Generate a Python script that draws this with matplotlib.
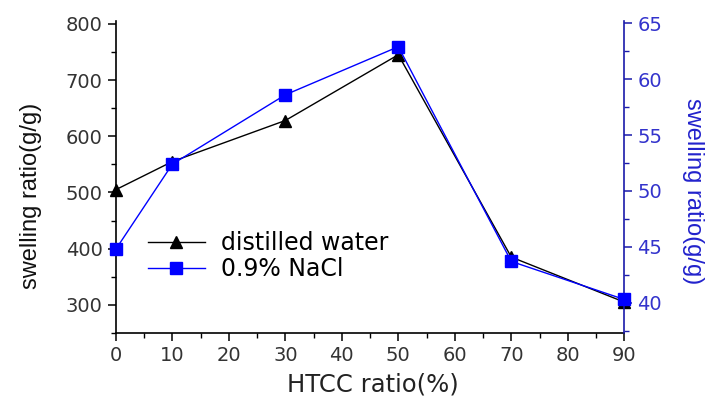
import matplotlib.pyplot as plt
from matplotlib.ticker import MultipleLocator

plt.rcParams['font.family'] = ['DejaVu Sans']

htcc = [0, 10, 30, 50, 70, 90]
water = [505, 555, 628, 745, 385, 305]
nacl = [44.8, 52.4, 58.6, 62.9, 43.7, 40.3]

blue = '#0000ff'
dark_blue = '#1a1aaa'

fig = plt.figure(figsize=(7.11, 4.0), dpi=100)
ax = fig.add_axes([0.163, 0.1675, 0.715, 0.78])
ax2 = ax.twinx()

l1, = ax.plot(htcc, water, color='black', lw=1, marker='^', ms=9,
              label='distilled water', clip_on=False, zorder=3)
l2, = ax2.plot(htcc, nacl, color=blue, lw=1, marker='s', ms=8,
               label='0.9% NaCl', clip_on=False, zorder=3)

ax.set_xlim(0, 90)
ax.set_ylim(250, 805)
ax2.set_ylim(37.3, 65.2)

ax.xaxis.set_major_locator(MultipleLocator(10))
ax.xaxis.set_minor_locator(MultipleLocator(5))
ax.yaxis.set_major_locator(MultipleLocator(100))
ax.yaxis.set_minor_locator(MultipleLocator(50))
ax2.yaxis.set_major_locator(MultipleLocator(5))
ax2.yaxis.set_minor_locator(MultipleLocator(2.5))

for a in (ax, ax2):
    a.spines['top'].set_visible(False)
ax.spines['right'].set_visible(False)
ax2.spines['left'].set_visible(False)
ax2.spines['bottom'].set_visible(False)
ax2.spines['right'].set_color(dark_blue)
ax.spines['left'].set_linewidth(1.2)
ax.spines['bottom'].set_linewidth(1.2)
ax2.spines['right'].set_linewidth(1.2)

ax.tick_params(which='major', direction='out', length=6, width=1.1,
               labelsize=14, labelcolor='#333333')
ax.tick_params(which='minor', direction='out', length=3.5, width=1)
ax2.tick_params(which='major', direction='out', length=6, width=1.1,
                labelsize=14, colors=dark_blue, labelcolor='#3333cc')
ax2.tick_params(which='minor', direction='out', length=3.5, width=1,
                colors=dark_blue)

ax.set_xlabel('HTCC ratio(%)', fontsize=17.5, color='#222222')
ax.xaxis.set_label_coords(0.505, -0.128)
ax.set_ylabel('swelling ratio(g/g)', fontsize=17, color='#111111',
              family='Liberation Sans')
ax.yaxis.set_label_coords(-0.146, 0.44)
ax2.set_ylabel('swelling ratio(g/g)', fontsize=17, color='#2222cc',
               family='Liberation Sans', rotation=270, va='bottom')
ax2.yaxis.set_label_coords(1.114, 0.455)

ax.legend(handles=[l1, l2], loc='lower left', bbox_to_anchor=(0.035, 0.12),
          frameon=False, fontsize=17, handlelength=2.4, handletextpad=0.7,
          labelspacing=0.1, borderaxespad=0.2)

fig.savefig('out.png', dpi=100)
